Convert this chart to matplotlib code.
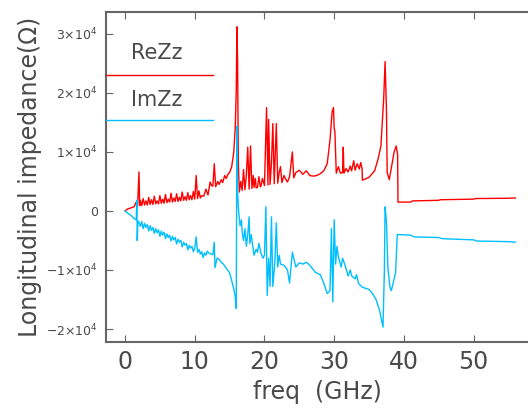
import matplotlib
matplotlib.use("Agg")
from matplotlib import pyplot as plt
from matplotlib.lines import Line2D

# ReZz (GHz, Ohm)
re_freq = [0.0, 0.3, 0.8, 1.3, 1.6, 1.8, 2.0, 2.1,
           2.2, 2.4, 2.6, 2.8, 3.0, 3.2, 3.4, 3.6, 3.8, 4.0, 4.2, 4.4, 4.6, 4.8,
           5.0, 5.2, 5.4, 5.6, 5.8, 6.0, 6.2, 6.4, 6.6, 6.8, 7.0, 7.2, 7.4, 7.6, 7.8,
           8.0, 8.2, 8.4, 8.6, 8.8, 9.0, 9.2, 9.4, 9.6, 9.8, 10.0, 10.2, 10.4, 10.6, 10.8,
           11.0, 11.3, 11.6, 11.9, 12.2, 12.4, 12.6, 12.8, 13.0, 13.3, 13.5, 13.8, 14.0, 14.3,
           14.5, 14.8, 15.0, 15.3, 15.6, 15.8, 15.95, 16.05, 16.15, 16.25, 16.4, 16.6, 16.8,
           17.0, 17.2, 17.4, 17.6, 17.8, 18.0, 18.2, 18.4, 18.5, 18.7, 18.8, 19.0, 19.2, 19.4,
           19.5, 19.7, 20.0, 20.3, 20.5, 20.6, 20.8, 21.0, 21.2, 21.4, 21.7, 21.9, 22.1, 22.3,
           22.5, 22.8, 23.0, 23.3, 23.6, 24.0, 24.2, 24.5, 25.0, 25.5, 26.0, 26.5,
           27.0, 27.5, 28.0, 28.5, 29.0, 29.4, 29.7, 29.9, 30.0, 30.1, 30.3, 30.6, 30.9, 31.2, 31.3,
           31.4, 31.7, 32.0, 32.3, 32.5, 32.8, 33.0, 33.3, 33.6, 33.8, 34.0, 34.05, 35.0, 35.8, 36.3,
           36.7, 36.9, 37.1, 37.3, 37.5, 37.6, 37.9, 38.3, 38.6, 38.9, 39.1, 39.15, 41.0, 41.2,
           45.0, 45.2, 50.0, 50.2, 55.0, 56.0]
re_zz = [0, 300, 500, 700, 1500, 800, 6600, 900,
         1800, 900, 2100, 1000, 1700, 1000, 2300, 1100, 1900, 1100, 2500, 1200, 1700, 1200,
         2600, 1300, 2000, 1300, 2800, 1400, 2000, 1500, 3000, 1500, 2200, 1600, 2900, 1600, 2300,
         1700, 3200, 1800, 2400, 1800, 3100, 1900, 2600, 1900, 3300, 2000, 6000, 2100, 3400, 2200,
         2600, 2500, 3700, 2700, 4900, 4300, 4200, 8000, 4100, 5000, 4500, 5300, 4800, 6000,
         5500, 6300, 6500, 7500, 10000, 14000, 20000, 31200, 25000, 8000, 3200, 5000, 3500,
         7000, 3600, 6000, 10800, 3700, 11000, 3800, 6000, 4000, 5500, 3900, 4000, 5800, 4100,
         4200, 5500, 4300, 17500, 4400, 15500, 4500, 8000, 14800, 4600, 14800, 4700, 6500, 7500,
         4800, 6000, 5500, 4900, 5800, 10000, 5600, 6500, 6900, 6200, 6800, 6000,
         5900, 6000, 6300, 6800, 8000, 12000, 16800, 17500, 14000, 13500, 6400, 7500, 6400, 6500, 10800,
         6400, 7200, 6600, 7600, 6800, 8500, 6900, 8000, 7100, 8200, 7200, 5200, 5700, 6800, 8800,
         11000, 15000, 19000, 25300, 17000, 6500, 5300, 8000, 10000, 11000, 9500, 1500, 1500, 1700,
         1800, 1900, 2000, 2100, 2150, 2200]

# ImZz
im_freq = [0.0, 0.4, 0.9, 1.3, 1.6, 1.7, 1.75, 1.85,
           2.0, 2.2, 2.4, 2.6, 2.8, 3.0, 3.2, 3.4, 3.6, 3.8, 4.0, 4.2, 4.4, 4.6, 4.8,
           5.0, 5.2, 5.4, 5.6, 5.8, 6.0, 6.2, 6.4, 6.6, 6.8, 7.0, 7.2, 7.4, 7.6, 7.8,
           8.0, 8.2, 8.4, 8.6, 8.8, 9.0, 9.2, 9.4, 9.6, 9.8, 10.0, 10.2, 10.4, 10.6, 10.8,
           11.0, 11.2, 11.4, 11.6, 11.8, 12.0, 12.3, 12.6, 12.8, 12.9, 13.2, 13.5, 13.8, 14.1, 14.4,
           14.7, 15.0, 15.3, 15.6, 15.8, 15.95, 16.0, 16.05, 16.15, 16.3, 16.5, 16.7, 16.8, 17.0,
           17.2, 17.4, 17.6, 17.8, 17.9, 18.1, 18.3, 18.5, 18.8, 19.0, 19.2, 19.5, 19.8, 20.0,
           20.2, 20.4, 20.6, 20.8, 21.0, 21.2, 21.5, 21.7, 21.9, 22.1, 22.3,
           22.8, 23.3, 23.6, 24.0, 24.5, 25.0, 25.5, 26.0, 26.5, 27.3, 28.0, 28.5, 29.0, 29.4,
           29.6, 29.8, 30.0, 30.2, 30.4, 30.6, 31.0, 31.2, 31.5, 32.0, 32.3, 32.5, 33.0, 33.2, 33.5, 34.0,
           34.5, 35.0, 35.5, 36.0, 36.5, 36.8, 37.0, 37.2, 37.3, 37.4, 37.5, 37.7, 38.0, 38.2, 38.5,
           38.8, 39.05, 41.0, 41.5, 45.0, 45.5, 50.0, 50.5, 55.0, 56.0]
im_zz = [0, -400, -800, -1300, -1500, 1800, -5000, -1700,
         -1900, -2600, -1800, -3000, -2100, -2800, -2300, -3400, -2500, -3300, -2800, -3800, -3000, -3700, -3200,
         -4300, -3400, -4100, -3600, -4700, -3900, -4500, -4100, -5100, -4300, -4900, -4500, -5600, -4800, -5300,
         -5000, -6100, -5300, -5800, -5500, -6600, -5800, -6300, -6000, -6900, -6300, -4400, -7000, -6500, -7300,
         -6900, -7900, -7100, -7500, -6800, -7100, -7300, -7400, -5300, -9600, -8000, -8200, -8700, -9000, -9500,
         -10000, -10500, -11800, -13200, -14500, -16500, 0, 14300, 3000, -200, -2500, -1500, -3500, -5000,
         -3000, -6000, -4000, -1000, -5500, -4000, -5800, -7500, -6500, -7000, -5500, -7200, -8000, -7500,
         700, -14300, -8000, -12800, -1000, -12800, -8500, -2000, -9500, -7500, -9000,
         -9200, -10000, -12200, -7000, -9500, -8800, -9000, -8700, -9200, -10400, -10800, -12200, -14000, -13500,
         -3000, -15400, -1500, -9000, -6000, -7800, -9500, -8000, -9000, -11000, -10000, -11000, -11500, -10800, -12300, -12900,
         -13100, -13300, -14000, -15000, -16800, -18500, -19700, -10000, 700, -500, -2000, -9500, -12900, -13500, -12000,
         -10500, -4000, -4100, -4400, -4500, -4700, -4900, -5100, -5200, -5300]

xticks = [0, 10, 20, 30, 40, 50]
yticks = [-20000, -10000, 0, 10000, 20000, 30000]
ytick_labels = [r"$-2{\times}10^4$", r"$-1{\times}10^4$", "0",
                r"$1{\times}10^4$", r"$2{\times}10^4$", r"$3{\times}10^4$"]

red = "#ff0000"
cyan = "#00bfff"
grey = "#4a4a4a"

fig = plt.figure(figsize=(5.28, 4.13), dpi=100)
ax = fig.add_axes([106/528, 71/413, 1 - 106/528, 330/413])

ax.plot(re_freq, re_zz, color=red, lw=1)
ax.plot(im_freq, im_zz, color=cyan, lw=1)

ax.set_xlim(-2.73, 57.8)
ax.set_ylim(-22200, 33700)
ax.set_xticks(xticks)
ax.set_yticks(yticks)
ax.set_yticklabels(ytick_labels, fontsize=9, color=grey)
ax.tick_params(axis="x", labelsize=17, labelcolor=grey, color="#666666",
               direction="in", length=5, top=True, pad=6)
ax.tick_params(axis="y", direction="in", length=5, color="#666666", pad=6)
for s in ["left", "bottom", "top"]:
    ax.spines[s].set_color("#666666")
    ax.spines[s].set_linewidth(1.5)
ax.spines["right"].set_visible(False)

ax.set_xlabel("freq  (GHz)", fontsize=17, color=grey, labelpad=4)
fig.text(30/528, 1 - 177/413, "Longitudinal impedance(\u03a9)", rotation=90,
         fontsize=17, color=grey, ha="center", va="center")

# legend drawn by hand like the original
fig.add_artist(Line2D([106/528, 213/528], [1 - 75/413, 1 - 75/413], color=red, lw=1))
fig.add_artist(Line2D([106/528, 213/528], [1 - 120/413, 1 - 120/413], color=cyan, lw=1))
fig.text(157/528, 1 - 53/413, "ReZz", fontsize=15, color=grey, ha="center", va="center")
fig.text(157/528, 1 - 100/413, "ImZz", fontsize=15, color=grey, ha="center", va="center")

fig.savefig("out.png", dpi=100)
